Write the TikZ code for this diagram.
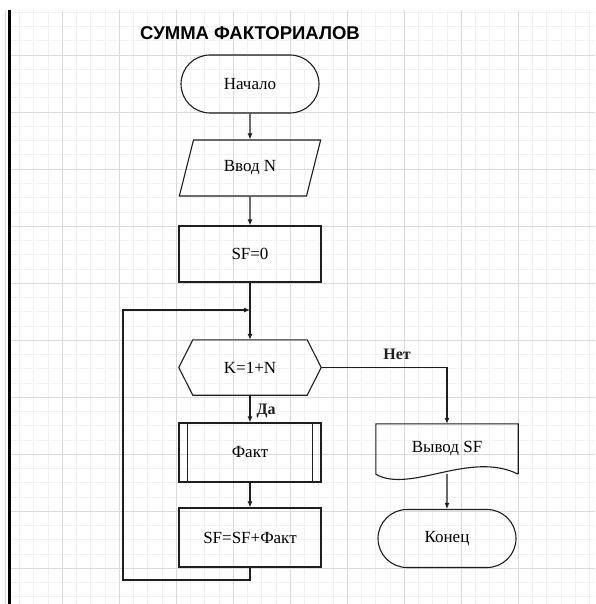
\documentclass[tikz,border=0pt]{standalone}
\usepackage{fontspec}
\setmainfont{Liberation Serif}
\newfontfamily\headfont{Liberation Sans}
\usepackage{tikz}
\usetikzlibrary{positioning, arrows.meta, calc, shapes.geometric, shapes.misc}
\definecolor{ink}{RGB}{30,30,30}
\definecolor{gridminor}{RGB}{242,242,242}
\definecolor{gridmajor}{RGB}{218,218,218}

\begin{document}
\begin{tikzpicture}[x=1pt, y=-1pt,
  base/.style={draw=ink, line width=1.1pt, minimum width=142pt, inner sep=2pt, font=\fontsize{17}{19}\selectfont},
  term/.style={base, rounded rectangle, minimum height=58pt},
  io/.style={base, trapezium, trapezium left angle=69, trapezium right angle=111, trapezium stretches=true, minimum height=56pt},
  proc/.style={base, rectangle},
  frame/.style={rectangle, minimum width=142pt, inner sep=2pt, font=\fontsize{17}{19}\selectfont},
  edge/.style={draw=ink, line width=1.1pt},
  flow/.style={ink, line width=1.1pt, -{Latex[length=6pt, width=5pt]}},
  lab/.style={font=\bfseries\fontsize{16}{18}\selectfont, text=ink}]
\fill[white] (0,0) rectangle (595,604);
\useasboundingbox (0,0) rectangle (595,604);
% background grid
\foreach \k in {0,...,41} {
  \draw[gridminor, line width=0.5pt] ({5+14.25*\k},10) -- ({5+14.25*\k},604);
  \draw[gridminor, line width=0.5pt] (10,{12.25+14.25*\k}) -- (595,{12.25+14.25*\k});
}
\foreach \m in {0,...,9} {
  \draw[gridmajor, line width=0.6pt] ({5+57*\m},10) -- ({5+57*\m},604);
  \draw[gridmajor, line width=0.6pt] (10,{55+57*\m}) -- (595,{55+57*\m});
}
\draw[black, line width=2.5pt] (9.5,10) -- (9.5,604);

\node[font=\headfont\bfseries\fontsize{18.5}{20}\selectfont] (title) at (250,33) {СУММА ФАКТОРИАЛОВ};

% blocks
\node[term] (start) at (250,84) {Начало};
\node[io] (input) at (250,168) {Ввод N};
\node[proc, minimum height=56pt] (init) at (250,254) {SF=0};
\coordinate (join) at (250,310);
\node[frame, minimum height=55pt] (cond) at (250,367.5) {K=1+N};
\draw[edge] (cond.west) -- ($(cond.north west)+(14,0)$) -- ($(cond.north east)+(-14,0)$) -- (cond.east)
  -- ($(cond.south east)+(-14,0)$) -- ($(cond.south west)+(14,0)$) -- cycle;
\node[proc, minimum height=59pt] (fact) at (250,452.5) {Факт};
\draw[edge] ($(fact.north west)+(9,0)$) -- ($(fact.south west)+(9,0)$);
\draw[edge] ($(fact.north east)+(-9,0)$) -- ($(fact.south east)+(-9,0)$);
\node[proc, minimum height=59pt] (sum) at (250,537.5) {SF=SF+Факт};
\node[frame, minimum height=50pt] (out) at (447,449) {Вывод SF};
\draw[edge] (out.south east) -- (out.north east) -- (out.north west) -- (out.south west)
  .. controls (410,494) and (470,450) .. (out.south east);
\node[term] (stop) at (447,538.5) {Конец};
\coordinate (lowleft) at (123,580);

% connectors
\draw[flow] (start) -- (input);
\draw[flow] (input) -- (init);
\draw[flow] (init) -- (cond);
\draw[flow] (cond) -- (fact);
\draw[flow] (fact) -- (sum);
\draw[flow] (sum.south) |- (lowleft) |- (join);
\draw[flow] (cond.east) -| (out.north);
\draw[flow] (out.south) -- (stop);
\node[lab, anchor=west] (yes) at (253,411) {Да};
\node[lab] (no) at (397,354) {Нет};
\end{tikzpicture}
\end{document}
